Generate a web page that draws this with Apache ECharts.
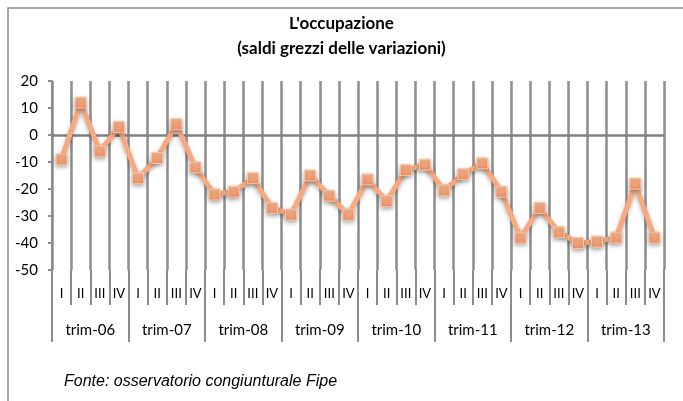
<!DOCTYPE html>
<html lang="it">
<head>
    <meta charset="UTF-8">
    <title>L'occupazione</title>
    <script src="https://cdn.jsdelivr.net/npm/echarts@6/dist/echarts.min.js"></script>
    <style>
        html, body { margin: 0; padding: 0; background: #fff; }
        #main { width: 683px; height: 401px; }
    </style>
</head>
<body>
<div id="main"></div>
<script>
    // dati
    var quarters = ['I', 'II', 'III', 'IV'];
    var years = ['trim-06', 'trim-07', 'trim-08', 'trim-09', 'trim-10', 'trim-11', 'trim-12', 'trim-13'];
    var saldi = [-9, 12, -6, 3, -16, -8.5, 4, -12,
                 -22, -21, -16, -27, -29.5, -15, -22.5, -29.5,
                 -16.5, -24.5, -13, -11, -20.5, -14.5, -10.5, -21,
                 -38, -27, -36, -40, -39.5, -38, -18, -38];
    var yTicks = { min: -50, max: 20, step: 10 };

    var cats = [];
    years.forEach(function (y) {
        quarters.forEach(function (q) { cats.push(q); });
    });

    var grey = '#8c8c8c';
    var myChart = echarts.init(document.getElementById('main'));
    var option = {
        animation: false,
        backgroundColor: '#fff',
        title: {
            text: "L'occupazione\n(saldi grezzi delle variazioni)",
            left: 'center',
            top: 6,
            textStyle: {
                fontFamily: 'Lato',
                fontSize: 17,
                fontWeight: 'bold',
                color: '#000',
                lineHeight: 25
            }
        },
        graphic: [
            {
                type: 'rect',
                shape: { x: 8, y: 8, width: 700, height: 420 },
                style: { fill: 'none', stroke: '#8c8c8c', lineWidth: 1.5 },
                silent: true
            },
            {
                type: 'text',
                left: 64,
                top: 374,
                style: {
                    text: 'Fonte: osservatorio congiunturale Fipe',
                    font: 'italic 16px "Liberation Sans"',
                    fill: '#000'
                }
            }
        ],
        grid: { left: 52, right: 19, top: 81, bottom: 131 },
        xAxis: [
            {
                type: 'category',
                data: cats,
                boundaryGap: true,
                position: 'bottom',
                axisLine: { show: false, onZero: false },
                axisTick: { show: true, interval: 0, length: 35, lineStyle: { color: grey, width: 2 } },
                axisLabel: { interval: 0, margin: 17, fontFamily: 'Lato', fontSize: 13, color: '#000' },
                splitLine: { show: true, interval: 0, lineStyle: { color: grey, width: 2.5 } }
            },
            {
                type: 'category',
                data: years,
                boundaryGap: true,
                position: 'bottom',
                axisLine: { show: false, onZero: false },
                axisTick: { show: true, interval: 0, length: 72, lineStyle: { color: grey, width: 2 } },
                axisLabel: { interval: 0, margin: 53, fontFamily: 'Lato', fontSize: 15, color: '#000' },
                splitLine: { show: false }
            }
        ],
        yAxis: {
            type: 'value',
            min: yTicks.min,
            max: yTicks.max,
            interval: yTicks.step,
            axisLine: { show: true, lineStyle: { color: grey, width: 2 } },
            axisTick: { show: true, length: 4, lineStyle: { color: grey, width: 2 } },
            axisLabel: { margin: 14, fontFamily: 'Lato', fontSize: 15, color: '#000' },
            splitLine: { show: false }
        },
        series: [
            {
                name: 'saldi',
                type: 'line',
                xAxisIndex: 0,
                data: saldi,
                symbol: 'rect',
                symbolSize: 11,
                z: 5,
                lineStyle: {
                    color: '#F8A97F',
                    width: 5,
                    shadowColor: 'rgba(0,0,0,0.3)',
                    shadowBlur: 4,
                    shadowOffsetY: 2
                },
                itemStyle: {
                    color: new echarts.graphic.LinearGradient(0, 0, 0, 1, [
                        { offset: 0, color: '#F9B690' },
                        { offset: 1, color: '#EF9265' }
                    ]),
                    borderColor: '#FBC7A8',
                    borderWidth: 1,
                    shadowColor: 'rgba(0,0,0,0.3)',
                    shadowBlur: 4,
                    shadowOffsetY: 2
                },
                markLine: {
                    silent: true,
                    symbol: 'none',
                    label: { show: false },
                    z: 2,
                    lineStyle: { color: '#808080', width: 2.5, type: 'solid' },
                    data: [{ yAxis: 0 }]
                }
            }
        ]
    };
    myChart.setOption(option);
</script>
</body>
</html>
